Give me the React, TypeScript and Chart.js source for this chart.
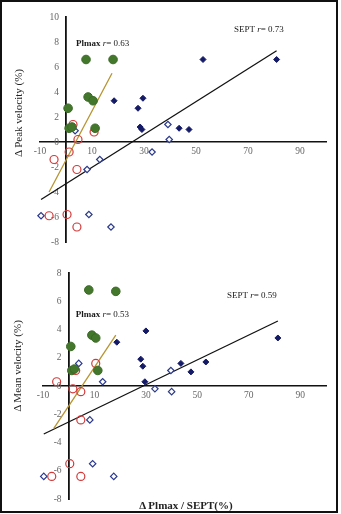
import React, { useEffect, useRef } from 'react';
import { Chart, registerables } from 'chart.js';

Chart.register(...registerables);

const FONT = '"Liberation Serif", "Times New Roman", serif';

// ---- shared axis ticks ----
const xTickValues = [-10, 10, 30, 50, 70, 90];

// ---- Peak velocity panel ----
const peakPlmaxFilledX = [7.7, 18.1, 8.5, 10.4, 0.8, 1.2, 2.3, 11.2];
const peakPlmaxFilledY = [6.6, 6.6, 3.6, 3.3, 2.7, 1.1, 1.2, 1.1];
const peakPlmaxOpenX = [2.7, 10.8, 4.6, 1.2, -4.6, 4.2, -6.5, 0.4, 4.2];
const peakPlmaxOpenY = [1.4, 0.8, 0.2, -0.8, -1.4, -2.2, -5.9, -5.8, -6.8];
const peakSeptFilledX = [18.5, 27.7, 29.6, 28.5, 29.2, 43.5, 47.3, 52.7, 81];
const peakSeptFilledY = [3.3, 2.7, 3.5, 1.2, 1.0, 1.1, 1.0, 6.6, 6.6];
const peakSeptOpenX = [3.5, 8.1, 13, 33.1, 39.2, 39.7, -9.6, 8.8, 17.3];
const peakSeptOpenY = [0.9, -2.2, -1.4, -0.8, 1.4, 0.2, -5.9, -5.8, -6.8];
const peakPlmaxTrendX = [-6.5, 17.7];
const peakPlmaxTrendY = [-4.0, 5.5];
const peakSeptTrendX = [-9.6, 81];
const peakSeptTrendY = [-4.6, 7.3];

// ---- Mean velocity panel ----
const meanPlmaxFilledX = [7.8, 18.3, 9, 10.5, 0.8, 1.2, 2.2, 11.3];
const meanPlmaxFilledY = [6.8, 6.7, 3.6, 3.4, 2.8, 1.1, 1.2, 1.1];
const meanPlmaxOpenX = [10.5, 2.7, -4.7, 1.6, 4.7, 4.7, 0.4, -6.6, 4.7];
const meanPlmaxOpenY = [1.6, 1.1, 0.3, -0.2, -0.4, -2.4, -5.5, -6.4, -6.4];
const meanSeptFilledX = [18.7, 28, 28.8, 29.6, 30, 43.6, 47.5, 53.3, 81.3];
const meanSeptFilledY = [3.1, 1.9, 1.4, 0.3, 3.9, 1.6, 1.0, 1.7, 3.4];
const meanSeptOpenX = [3.9, 13.2, 8.2, 9.3, -9.7, 17.5, 39.7, 33.5, 40];
const meanSeptOpenY = [1.6, 0.3, -2.4, -5.5, -6.4, -6.4, 1.1, -0.2, -0.4];
const meanPlmaxTrendX = [-5.8, 18.3];
const meanPlmaxTrendY = [-3.0, 3.6];
const meanSeptTrendX = [-9.7, 81.3];
const meanSeptTrendY = [-3.4, 4.6];

const xy = (xs: number[], ys: number[]) => xs.map((x, i) => ({ x, y: ys[i] }));

type Part = { text: string; font: string };
type Ann = { x: number; y: number; parts: Part[] };

function buildDatasets(
  gX: number[], gY: number[], rX: number[], rY: number[],
  nfX: number[], nfY: number[], noX: number[], noY: number[],
  ptX: number[], ptY: number[], stX: number[], stY: number[]
) {
  return [
    {
      label: 'Plmax +', data: xy(gX, gY), pointStyle: 'circle', pointRadius: 4.3,
      backgroundColor: '#43772c', borderColor: '#3b6a26', borderWidth: 1, clip: false,
    },
    {
      label: 'Plmax -', data: xy(rX, rY), pointStyle: 'circle', pointRadius: 4,
      backgroundColor: 'rgba(255,255,255,0)', borderColor: '#d23a3a', borderWidth: 1.2, clip: false,
    },
    {
      label: 'SEPT +', data: xy(nfX, nfY), pointStyle: 'rectRot', pointRadius: 3,
      backgroundColor: '#141a66', borderColor: '#141a66', borderWidth: 1, clip: false,
    },
    {
      label: 'SEPT -', data: xy(noX, noY), pointStyle: 'rectRot', pointRadius: 3.2,
      backgroundColor: '#ffffff', borderColor: '#2b3a8c', borderWidth: 1.2, clip: false,
    },
    {
      label: 'Plmax trend', data: xy(ptX, ptY), showLine: true, pointRadius: 0,
      borderColor: '#b89430', borderWidth: 1.3, clip: false,
    },
    {
      label: 'SEPT trend', data: xy(stX, stY), showLine: true, pointRadius: 0,
      borderColor: '#111111', borderWidth: 1.3, clip: false,
    },
  ];
}

function Panel(props: {
  top: number; height: number;
  pad: { left: number; right: number; top: number; bottom: number };
  yMin: number; yMax: number; datasets: any[]; anns: Ann[];
}) {
  const ref = useRef<HTMLCanvasElement>(null);
  useEffect(() => {
    const anns = props.anns;
    const annPlugin = {
      id: 'annText',
      afterDraw(chart: any) {
        const ctx = chart.ctx;
        const xs = chart.scales.x;
        const ys = chart.scales.y;
        ctx.save();
        ctx.fillStyle = '#1a1a1a';
        ctx.textBaseline = 'middle';
        ctx.textAlign = 'left';
        anns.forEach((a) => {
          let px = xs.getPixelForValue(a.x);
          const py = ys.getPixelForValue(a.y);
          a.parts.forEach((p) => {
            ctx.font = p.font;
            ctx.fillText(p.text, px, py);
            px += ctx.measureText(p.text).width;
          });
        });
        ctx.restore();
      },
    };
    const chart = new Chart(ref.current as HTMLCanvasElement, {
      type: 'scatter',
      data: { datasets: props.datasets },
      options: {
        animation: false,
        responsive: false,
        events: [],
        layout: { padding: props.pad },
        plugins: { legend: { display: false }, tooltip: { enabled: false } },
        scales: {
          x: {
            type: 'linear',
            min: -10,
            max: 100,
            position: { y: 0 } as any,
            grid: { display: false, drawTicks: false },
            border: { color: '#111', width: 1.5 },
            afterBuildTicks: (s: any) => {
              s.ticks = xTickValues.map((v) => ({ value: v }));
            },
            ticks: {
              font: { family: FONT, size: 9.5 },
              color: '#666',
              padding: 4,
              maxRotation: 0,
              autoSkip: false,
            },
          },
          y: {
            type: 'linear',
            min: props.yMin,
            max: props.yMax,
            position: { x: 0 } as any,
            grid: { display: false, drawTicks: false },
            border: { color: '#111', width: 1.8 },
            ticks: {
              stepSize: 2,
              font: { family: FONT, size: 9.5 },
              color: '#666',
              autoSkip: false,
              callback: (v: any) => String(v) + '   ',
            },
          },
        },
      },
      plugins: [annPlugin],
    });
    return () => chart.destroy();
  }, []);
  return (
    <canvas
      ref={ref}
      width={341}
      height={props.height}
      style={{ position: 'absolute', left: 0, top: props.top, width: 341, height: props.height }}
    />
  );
}

const bold = `bold 9px ${FONT}`;
const ital = `italic 9px ${FONT}`;
const reg = `9px ${FONT}`;

export default function App() {
  const peakSets = buildDatasets(
    peakPlmaxFilledX, peakPlmaxFilledY, peakPlmaxOpenX, peakPlmaxOpenY,
    peakSeptFilledX, peakSeptFilledY, peakSeptOpenX, peakSeptOpenY,
    peakPlmaxTrendX, peakPlmaxTrendY, peakSeptTrendX, peakSeptTrendY
  );
  const meanSets = buildDatasets(
    meanPlmaxFilledX, meanPlmaxFilledY, meanPlmaxOpenX, meanPlmaxOpenY,
    meanSeptFilledX, meanSeptFilledY, meanSeptOpenX, meanSeptOpenY,
    meanPlmaxTrendX, meanPlmaxTrendY, meanSeptTrendX, meanSeptTrendY
  );
  const peakAnns: Ann[] = [
    { x: 3.8, y: 7.9, parts: [{ text: 'Plmax ', font: bold }, { text: 'r', font: ital }, { text: '= 0.63', font: reg }] },
    { x: 64.6, y: 9.0, parts: [{ text: 'SEPT ', font: reg }, { text: 'r', font: ital }, { text: '= 0.73', font: reg }] },
  ];
  const meanAnns: Ann[] = [
    { x: 2.7, y: 5.07, parts: [{ text: 'Plmax ', font: bold }, { text: 'r', font: ital }, { text: '= 0.53', font: reg }] },
    { x: 61.5, y: 6.4, parts: [{ text: 'SEPT ', font: reg }, { text: 'r', font: ital }, { text: '= 0.59', font: reg }] },
  ];
  const yTitle: React.CSSProperties = {
    position: 'absolute',
    transform: 'translate(-50%, -50%) rotate(-90deg)',
    whiteSpace: 'nowrap',
    font: `11px ${FONT}`,
    color: '#222',
  };
  return (
    <div style={{ position: 'absolute', left: 0, top: 0, width: 341, height: 514, background: '#fff', overflow: 'hidden' }}>
      <Panel top={0} height={257} pad={{ left: 40, right: 15, top: 17, bottom: 15 }} yMin={-8} yMax={10} datasets={peakSets} anns={peakAnns} />
      <Panel top={257} height={257} pad={{ left: 43, right: 15, top: 16, bottom: 15 }} yMin={-8} yMax={8} datasets={meanSets} anns={meanAnns} />
      <div style={{ ...yTitle, left: 18, top: 113 }}>Δ Peak velocity (%)</div>
      <div style={{ ...yTitle, left: 17, top: 366 }}>Δ Mean velocity (%)</div>
      <div
        style={{
          position: 'absolute', left: 186, top: 505, transform: 'translate(-50%, -50%)',
          whiteSpace: 'nowrap', font: `bold 11px ${FONT}`, color: '#222',
        }}
      >
        Δ Plmax / SEPT(%)
      </div>
      <div
        style={{
          position: 'absolute', left: 0, top: 0, width: 338, height: 513,
          boxSizing: 'border-box', border: '2px solid #111', pointerEvents: 'none',
        }}
      />
    </div>
  );
}
